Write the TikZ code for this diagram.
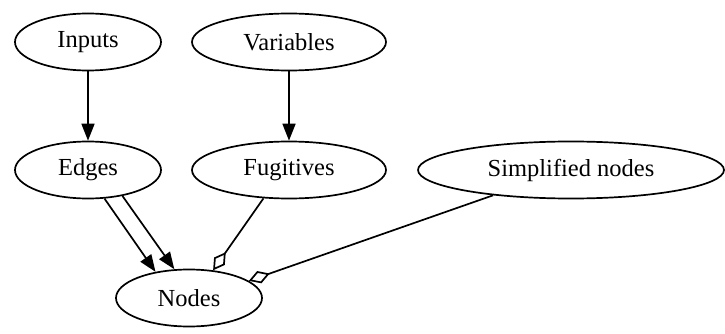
\documentclass[tikz,border=0pt]{standalone}
\usepackage{fontspec}
\setmainfont{Liberation Serif}
\usetikzlibrary{arrows.meta,shapes.geometric}
\begin{document}
\begin{tikzpicture}[x=1pt,y=-1pt,
  gnode/.style={draw,ellipse,line width=1.7pt,inner sep=0pt,minimum height=57pt,
    font=\fontsize{24.5}{28}\selectfont},
  dep/.style={line width=1.7pt,-{Triangle[length=17pt,width=13pt]}},
  agg/.style={line width=1.7pt,-{Diamond[open,length=22pt,width=13pt]}}]
\useasboundingbox (0,0) rectangle (725,334);
\node[gnode,minimum width=146pt] (inputs) at (88,42) {Inputs};
\node[gnode,minimum width=194pt] (variables) at (289,42) {Variables};
\node[gnode,minimum width=146pt] (edges) at (88,170) {Edges};
\node[gnode,minimum width=194pt] (fugitives) at (289,170) {Fugitives};
\node[gnode,minimum width=306pt] (simplified) at (571,170) {Simplified nodes};
\node[gnode,minimum width=146pt] (nodes) at (189,298) {Nodes};
\draw[dep] (inputs) -- (edges);
\draw[dep] (variables) -- (fugitives);
\draw[dep] (edges.-60) -- (nodes.142);
\draw[dep] (edges.-37) -- (nodes.117);
\draw[agg] (fugitives.228) -- (nodes.49);
\draw[agg] (simplified.198) -- (nodes.16);
\end{tikzpicture}
\end{document}
